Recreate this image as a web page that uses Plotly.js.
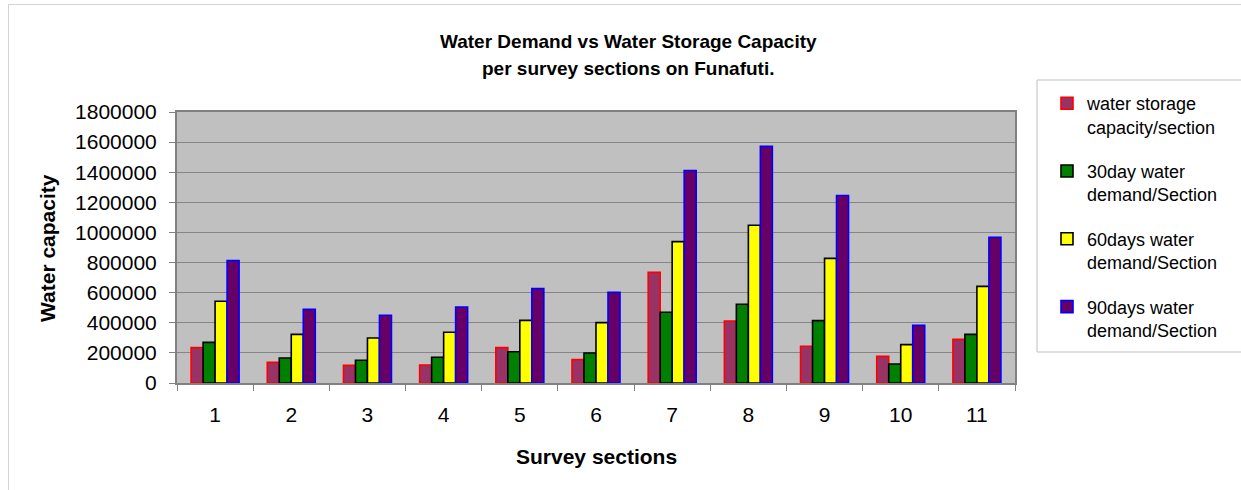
<!DOCTYPE html>
<html>
<head>
<meta charset="utf-8">
<script src="https://cdn.plot.ly/plotly-3.0.1.min.js"></script>
<style>
  html, body { margin: 0; padding: 0; background: #ffffff; }
  #wrap { position: relative; width: 1241px; height: 490px; overflow: hidden; }
  #chart { position: absolute; left: 0; top: 0; width: 1241px; height: 490px; }
  #frame { position: absolute; left: 8px; top: 4px; width: 1300px; height: 600px;
           border-left: 1px solid #d4d4d4; border-top: 1px solid #d4d4d4; pointer-events: none; }
</style>
</head>
<body>
<div id="wrap">
  <div id="chart"></div>
  <div id="frame"></div>
</div>
<script>
const sections = ['1','2','3','4','5','6','7','8','9','10','11'];
const storageCapacity = [235000,137000,117000,120000,235000,155000,735000,412000,244000,177000,290000];
const demand30 = [270000,166000,151000,171000,208000,199000,470000,523000,414000,126000,323000];
const demand60 = [543000,323000,299000,337000,416000,401000,939000,1048000,828000,255000,642000];
const demand90 = [813000,489000,450000,505000,627000,602000,1411000,1572000,1245000,383000,968000];
const seriesNames = ['water storage<br>capacity/section','30day water<br>demand/Section','60days water<br>demand/Section','90days water<br>demand/Section'];
const yTicks = [0,200000,400000,600000,800000,1000000,1200000,1400000,1600000,1800000];
const titleLines = ['Water Demand vs Water Storage Capacity','per survey sections on Funafuti.'];
const xTitle = 'Survey sections';
const yTitle = 'Water capacity';

const fills = ['#993366','#008000','#FFFF00','#660066'];
const borders = ['#FF0000','#000000','#000000','#0000FF'];
const vals = [storageCapacity, demand30, demand60, demand90];

const traces = vals.map((v, i) => ({
  type: 'bar',
  x: sections,
  y: v,
  name: seriesNames[i],
  legendgroup: 'g' + i,
  marker: { color: fills[i], line: { color: borders[i], width: 1.6 } },
  hoverinfo: 'x+y'
}));

const font = 'Liberation Sans, Arial, sans-serif';
const L = 177, R = 1015, T = 112, B = 383;
const px = x => (x - L) / (R - L);
const py = y => (B - y) / (B - T);

const layout = {
  width: 1241, height: 490,
  margin: { l: L, r: 1241 - R, t: T, b: 490 - B },
  paper_bgcolor: 'rgba(0,0,0,0)',
  plot_bgcolor: '#C0C0C0',
  font: { family: font, color: '#000000' },
  barmode: 'group',
  bargap: 0.37,
  bargroupgap: 0,
  showlegend: true,
  xaxis: {
    type: 'category',
    tickson: 'boundaries',
    ticks: 'outside', ticklen: 6, tickcolor: '#808080', tickwidth: 1,
    ticklabelstandoff: 12,
    tickfont: { family: font, size: 21, color: '#000000' },
    showline: true, linecolor: '#808080', linewidth: 2, mirror: true,
    showgrid: false,
    automargin: false
  },
  yaxis: {
    range: [0, 1800000],
    tickvals: yTicks,
    ticktext: yTicks.map(String),
    ticks: 'outside', ticklen: 6, tickcolor: '#808080', tickwidth: 1,
    ticklabelstandoff: 8,
    tickfont: { family: font, size: 21, color: '#000000' },
    showline: true, linecolor: '#808080', linewidth: 2, mirror: true,
    showgrid: true, gridcolor: '#868686', gridwidth: 1,
    zeroline: false,
    automargin: false
  },
  legend: {
    x: px(1047), xanchor: 'left',
    y: py(85), yanchor: 'top',
    bgcolor: 'rgba(0,0,0,0)', borderwidth: 0,
    font: { family: font, size: 18, color: '#000000' },
    valign: 'top',
    tracegroupgap: 18,
    traceorder: 'grouped',
    maxheight: 400
  },
  annotations: [
    { text: '<b>' + titleLines[0] + '</b>', xref: 'paper', yref: 'paper', x: px(628), y: py(41),
      xanchor: 'center', yanchor: 'middle', showarrow: false, font: { family: font, size: 19, color: '#000000' } },
    { text: '<b>' + titleLines[1] + '</b>', xref: 'paper', yref: 'paper', x: px(628), y: py(68),
      xanchor: 'center', yanchor: 'middle', showarrow: false, font: { family: font, size: 19, color: '#000000' } },
    { text: '<b>' + xTitle + '</b>', xref: 'paper', yref: 'paper', x: px(596), y: py(456),
      xanchor: 'center', yanchor: 'middle', showarrow: false, font: { family: font, size: 21, color: '#000000' } },
    { text: '<b>' + yTitle + '</b>', xref: 'paper', yref: 'paper', x: px(47), y: py(248), textangle: -90,
      xanchor: 'center', yanchor: 'middle', showarrow: false, font: { family: font, size: 21, color: '#000000' } }
  ],
  shapes: [{
    type: 'rect', xref: 'paper', yref: 'paper',
    x0: px(1037), x1: px(1300),
    y0: py(352), y1: py(80),
    line: { color: '#BFBFBF', width: 1 }, fillcolor: '#FFFFFF', layer: 'below'
  }]
};

Plotly.newPlot('chart', traces, layout, { displayModeBar: false, staticPlot: true });
</script>
</body>
</html>
